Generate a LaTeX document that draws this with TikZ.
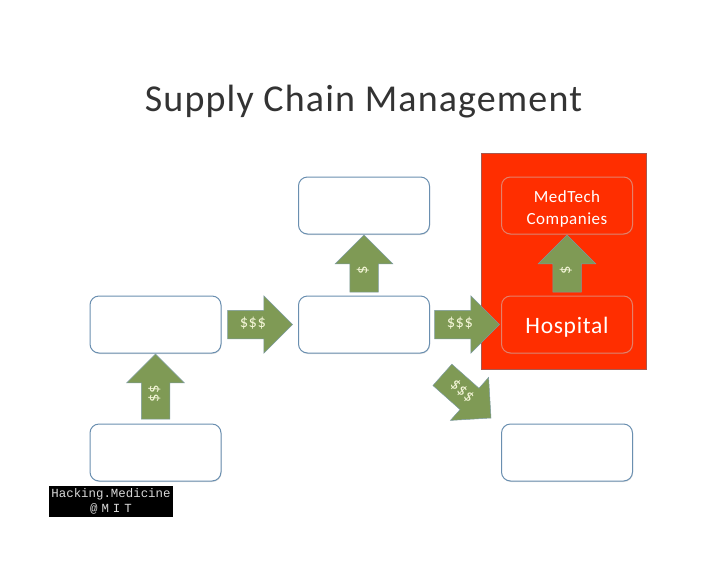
\documentclass[tikz,border=0pt]{standalone}
\usepackage{fontspec}
\setmainfont[LetterSpace=3]{Carlito}
\newfontfamily\logofont{Liberation Mono}
\usetikzlibrary{shapes.arrows,shadows}
\definecolor{boxline}{HTML}{6A8FB0}
\definecolor{moneygreen}{HTML}{7F9A55}
\definecolor{arrowline}{HTML}{7C9AA0}
\definecolor{hospitalred}{HTML}{FF2E00}
\definecolor{redline}{HTML}{E5806A}
\definecolor{frameline}{HTML}{A8584E}
\definecolor{moneytext}{HTML}{F4F6D8}
\tikzset{
    chainbox/.style={draw=boxline, line width=1pt, fill=white, rounded corners=9pt,
        minimum width=131pt, minimum height=57pt, inner sep=0pt, outer sep=0pt,
        drop shadow={shadow xshift=0.5pt, shadow yshift=-1pt, opacity=0.25}},
    redbox/.style={chainbox, draw=redline, fill=hospitalred, text=white},
    moneyarrow/.style={single arrow, draw=arrowline, line width=0.5pt, fill=moneygreen,
        text=moneytext, font=\fontsize{16.5}{16.5}\selectfont,
        minimum width=57pt, minimum height=65pt, single arrow head extend=14.5pt,
        text height=9pt, text depth=3pt, inner ysep=8pt, inner xsep=0pt, outer sep=0pt},
    shortarrow/.style={moneyarrow, minimum height=57pt}
}
\begin{document}
\begin{tikzpicture}[x=1pt,y=-1pt]
    \useasboundingbox (0,0) rectangle (728,563);
    \node[font=\fontsize{38}{38}\selectfont, text=black!80] (title) at (363.5,102) {Supply Chain Management};

    % red frame
    \node[draw=frameline, fill=hospitalred, minimum width=165pt, minimum height=216pt, inner sep=0pt,
        drop shadow={shadow xshift=0.5pt, shadow yshift=-1pt, opacity=0.25}] (frame) at (563.5,261) {};

    % boxes
    \node[chainbox] (payer) at (155.5,324.5) {};
    \node[chainbox] (patient) at (155.5,452.5) {};
    \node[chainbox] (topmid) at (364,205.5) {};
    \node[chainbox] (midbox) at (364,324.5) {};
    \node[redbox, align=center, font=\fontsize{17}{22}\selectfont] (medtech) at (567,205.5) {\rule{0pt}{18pt}MedTech\\Companies};
    \node[redbox, font=\fontsize{23.5}{24}\selectfont, text height=22pt] (hospital) at (567,324.5) {Hospital};
    \node[chainbox] (lowright) at (567,452.5) {};

    % money arrows
    \node[moneyarrow, rotate=90, anchor=tip] (up1) at ([yshift=-1pt]payer.south) {\$\$};
    \node[moneyarrow, anchor=tip] (right1) at ([xshift=-6pt]midbox.west) {\$\$\$};
    \node[shortarrow, rotate=90, anchor=tip] (up2) at ([yshift=-1pt]topmid.south) {\$};
    \node[moneyarrow, anchor=tip] (right2) at ([xshift=-2pt]hospital.west) {\$\$\$};
    \node[shortarrow, rotate=90, anchor=tip] (up3) at ([yshift=-1pt]medtech.south) {\$};
    \coordinate (lowtip) at (491,418);
    \node[moneyarrow, rotate=-41.6, anchor=tip] (down1) at (lowtip) {\$\$\$};

    % logo
    \node[fill=black, text=black!15, minimum width=124pt, minimum height=31pt, inner sep=0pt, align=center,
        font=\logofont\fontsize{12.4}{15}\selectfont] (logo) at (111,501.5) {Hacking.Medicine\\{\spaceskip=4pt @ M I T}};
\end{tikzpicture}
\end{document}
